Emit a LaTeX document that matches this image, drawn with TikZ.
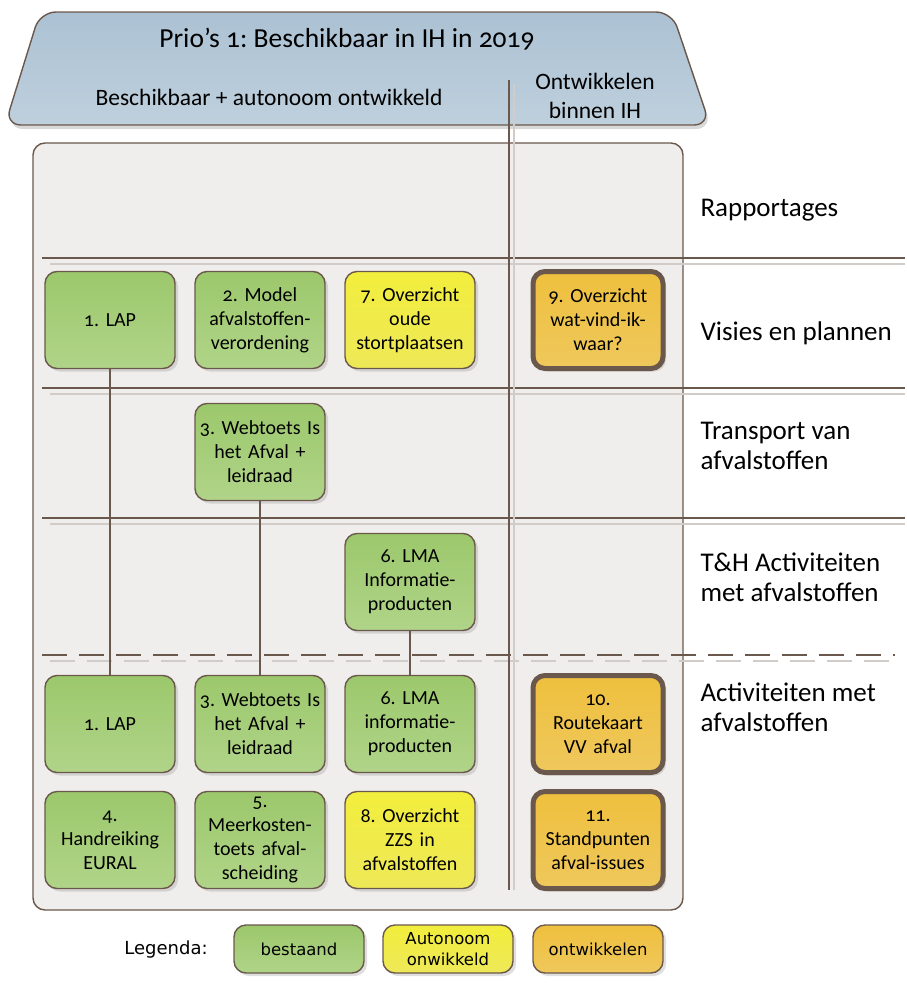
\documentclass[tikz,border=0pt]{standalone}
\usepackage{fontspec}
\setmainfont[Numbers=OldStyle]{Carlito}
\newfontfamily\legfont{DejaVu Sans}
\usetikzlibrary{shadows}
\frenchspacing

\definecolor{rand}{HTML}{6B584C}
\definecolor{vlak}{HTML}{F0EEEC}
\definecolor{kopA}{HTML}{ABC1D3}
\definecolor{kopB}{HTML}{BFD0DD}
\definecolor{groenA}{HTML}{9CC86C}
\definecolor{groenB}{HTML}{B0D488}
\definecolor{geelA}{HTML}{F2EE3C}
\definecolor{geelB}{HTML}{EEE858}
\definecolor{oranjeA}{HTML}{EFC03E}
\definecolor{oranjeB}{HTML}{EFC85C}
\definecolor{schaduw}{HTML}{D2CCC8}

\tikzset{
  blok/.style={draw=rand, line width=1.4pt, rounded corners=12pt,
    minimum width=130pt, minimum height=97pt, text width=126pt,
    align=center, inner sep=2pt, font=\fontsize{20}{24}\selectfont,
    drop shadow={shadow xshift=3pt, shadow yshift=-3pt, opacity=0.25}},
  bestaand/.style={blok, top color=groenA, bottom color=groenB},
  autonoom/.style={blok, top color=geelA, bottom color=geelB},
  ontwikkel/.style={blok, top color=oranjeA, bottom color=oranjeB},
  nieuw/.style={ontwikkel, line width=5pt},
  legblok/.style={minimum height=48pt, font=\legfont\fontsize{16.5}{21}\selectfont},
  laag/.style={anchor=west, align=left, font=\fontsize{27}{30}\selectfont},
  scheiding/.style={draw=rand, line width=1.2pt},
  schaduwlijn/.style={draw=schaduw, line width=1.2pt},
  verband/.style={draw=rand, line width=1.2pt}
}

\begin{document}
\begin{tikzpicture}[x=1pt, y=-1pt]
  \useasboundingbox (0,0) rectangle (907,983);

  % header banner
  \draw[draw=rand, line width=1.4pt, top color=kopA, bottom color=kopB,
        rounded corners=16pt,
        drop shadow={shadow xshift=2pt, shadow yshift=-4pt, opacity=0.3}]
    (5,125) -- (40,12) -- (672,12) -- (710,125) -- cycle;
  \node[font=\fontsize{27.5}{30}\selectfont] (titel) at (347,39) {Prio’s 1: Beschikbaar in IH in 2019};
  \node[font=\fontsize{23.5}{26}\selectfont] (links) at (269,97) {Beschikbaar + autonoom ontwikkeld};
  \node[font=\fontsize{23.5}{29}\selectfont, align=center] (rechts) at (595,96) {Ontwikkelen\\binnen IH};

  % main panel
  \draw[draw=rand, line width=1.4pt, fill=vlak, rounded corners=12pt] (33,143) rectangle (683,910);

  % separating lines
  \foreach \y in {258,388,518} {
    \draw[schaduwlijn] (50,\y+6) -- (905,\y+6);
    \draw[scheiding] (42,\y) -- (905,\y);
  }
  \draw[schaduwlijn, dash pattern=on 25pt off 12pt] (50,661) -- (895,661);
  \draw[scheiding, dash pattern=on 25pt off 12pt] (42,655) -- (895,655);

  % column divider
  \draw[schaduwlijn] (514,84) -- (514,890);
  \draw[scheiding] (509,80) -- (509,890);

  % layer labels
  \node[laag] (rapport) at (697,210) {Rapportages};
  \node[laag] (visie) at (697,333) {Visies en plannen};
  \node[laag] (transport) at (697,446) {Transport van\\afvalstoffen};
  \node[laag] (thact) at (697,577) {T\&H Activiteiten\\met afvalstoffen};
  \node[laag] (act) at (697,707) {Activiteiten met\\afvalstoffen};

  % visies en plannen
  \node[bestaand] (lap) at (110,320) {1. LAP};
  \node[bestaand] (model) at (260,320) {2. Model\\afvalstoffen-\\verordening};
  \node[autonoom] (stort) at (410,320) {7. Overzicht\\oude\\stortplaatsen};
  \node[nieuw] (watvind) at (598,320) {9. Overzicht\\wat-vind-ik-\\waar?};

  % transport
  \node[bestaand] (webtoets) at (260,452) {3. Webtoets Is\\het Afval +\\leidraad};

  % T&H activiteiten
  \node[bestaand] (lma) at (410,582) {6. LMA\\Informatie-\\producten};

  % activiteiten
  \node[bestaand] (lapB) at (110,724) {1. LAP};
  \node[bestaand] (webtoetsB) at (260,724) {3. Webtoets Is\\het Afval +\\leidraad};
  \node[bestaand] (lmaB) at (410,724) {6. LMA\\informatie-\\producten};
  \node[nieuw] (route) at (598,724) {10.\\Routekaart\\VV afval};
  \node[bestaand] (eural) at (110,840) {4.\\Handreiking\\EURAL};
  \node[bestaand] (meerkosten) at (260,840) {5.\\Meerkosten-\\toets afval-\\scheiding};
  \node[autonoom] (zzs) at (410,840) {8. Overzicht\\ZZS in\\afvalstoffen};
  \node[nieuw] (standpunt) at (598,840) {11.\\Standpunten\\afval-issues};

  % connectors
  \draw[verband] (lap.south) -- (lapB.north);
  \draw[verband] (webtoets.south) -- (webtoetsB.north);
  \draw[verband] (lma.south) -- (lmaB.north);

  % legend
  \node[font=\legfont\fontsize{18}{22}\selectfont] (legenda) at (166,950) {Legenda:};
  \node[bestaand, legblok] (legA) at (299,949) {bestaand};
  \node[autonoom, legblok] (legB) at (448,949) {Autonoom\\onwikkeld};
  \node[ontwikkel, legblok] (legC) at (598,949) {ontwikkelen};
\end{tikzpicture}
\end{document}
